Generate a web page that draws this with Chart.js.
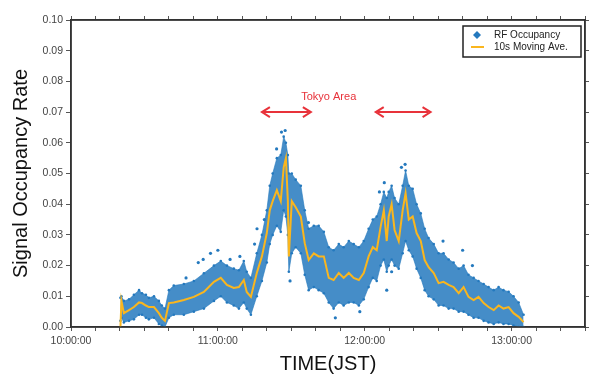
<!DOCTYPE html>
<html>
<head>
<meta charset="utf-8">
<script src="https://cdn.jsdelivr.net/npm/chart.js@4.4.1/dist/chart.umd.min.js"></script>
<style>
html,body{margin:0;padding:0;background:#fff;}
#wrap{width:592px;height:376px;position:relative;}
</style>
</head>
<body>
<div id="wrap"><canvas id="c" width="592" height="376"></canvas></div>
<script>
// time in minutes after 10:00:00 JST
const times = [20.2,20.6,21.6,23.7,25.7,27.8,29.0,30.6,31.8,33.9,35.9,37.1,38.4,40.0,42.0,46.1,50.2,54.3,58.4,61.2,63.7,66.5,68.6,70.6,71.8,73.5,75.9,78.0,80.0,81.2,82.4,84.1,85.7,86.9,87.8,88.6,89.0,90.2,91.8,93.9,95.5,97.1,99.2,101.2,103.3,105.3,107.3,109.4,111.4,113.5,115.5,117.6,119.6,121.6,123.3,124.9,126.5,127.8,129.0,129.8,131.0,132.2,133.9,135.5,136.7,138.0,139.6,141.2,142.9,144.5,146.1,148.2,150.2,152.2,154.3,156.3,158.4,160.4,162.4,164.5,166.5,168.6,170.6,172.7,174.7,176.7,178.8,180.8,182.9,184.9];
// 10s moving average
const movingAve = [0.0000,0.0085,0.0045,0.0055,0.0065,0.0080,0.0078,0.0070,0.0065,0.0065,0.0045,0.0030,0.0020,0.0078,0.0080,0.0088,0.0098,0.0114,0.0147,0.0160,0.0137,0.0127,0.0130,0.0153,0.0114,0.0098,0.0176,0.0230,0.0306,0.0380,0.0410,0.0446,0.0410,0.0520,0.0550,0.0410,0.0230,0.0410,0.0390,0.0360,0.0273,0.0218,0.0240,0.0230,0.0230,0.0160,0.0153,0.0176,0.0160,0.0176,0.0160,0.0153,0.0176,0.0230,0.0260,0.0250,0.0326,0.0380,0.0280,0.0360,0.0400,0.0316,0.0280,0.0380,0.0436,0.0350,0.0360,0.0306,0.0280,0.0218,0.0195,0.0176,0.0143,0.0147,0.0137,0.0130,0.0110,0.0130,0.0098,0.0088,0.0098,0.0078,0.0065,0.0055,0.0070,0.0060,0.0065,0.0045,0.0033,0.0016];
// RF occupancy cloud: upper and lower edge
const occHigh = [0.0095,0.0100,0.0085,0.0090,0.0105,0.0120,0.0110,0.0105,0.0095,0.0100,0.0085,0.0070,0.0060,0.0120,0.0135,0.0140,0.0150,0.0175,0.0200,0.0215,0.0200,0.0190,0.0185,0.0215,0.0180,0.0160,0.0240,0.0300,0.0380,0.0460,0.0500,0.0550,0.0560,0.0620,0.0600,0.0560,0.0500,0.0500,0.0480,0.0460,0.0380,0.0320,0.0330,0.0330,0.0310,0.0260,0.0250,0.0270,0.0260,0.0280,0.0270,0.0260,0.0280,0.0320,0.0350,0.0360,0.0400,0.0440,0.0420,0.0440,0.0460,0.0420,0.0400,0.0460,0.0510,0.0460,0.0450,0.0400,0.0370,0.0320,0.0290,0.0270,0.0240,0.0240,0.0220,0.0210,0.0190,0.0200,0.0170,0.0160,0.0150,0.0140,0.0130,0.0120,0.0130,0.0120,0.0115,0.0100,0.0080,0.0040];
const occLow = [0.0020,0.0030,0.0015,0.0020,0.0025,0.0040,0.0040,0.0030,0.0025,0.0030,0.0010,0.0005,0.0000,0.0030,0.0040,0.0040,0.0050,0.0060,0.0085,0.0100,0.0080,0.0070,0.0060,0.0080,0.0060,0.0040,0.0100,0.0150,0.0210,0.0270,0.0300,0.0330,0.0310,0.0380,0.0360,0.0300,0.0180,0.0240,0.0260,0.0240,0.0170,0.0120,0.0130,0.0120,0.0110,0.0080,0.0060,0.0080,0.0070,0.0080,0.0080,0.0070,0.0090,0.0130,0.0160,0.0150,0.0200,0.0220,0.0180,0.0200,0.0220,0.0200,0.0190,0.0240,0.0280,0.0250,0.0230,0.0190,0.0160,0.0120,0.0100,0.0090,0.0070,0.0070,0.0060,0.0060,0.0050,0.0050,0.0040,0.0030,0.0030,0.0020,0.0015,0.0010,0.0015,0.0010,0.0010,0.0005,0.0000,0.0000];
// isolated RF occupancy samples
const outlierT = [47,52,54,57,60,65,69,75,76,79,84,86,87.5,89.5,97,108,118,126,128,129,131,135,136.5,152,160,164];
const outlierV = [0.016,0.021,0.022,0.024,0.025,0.022,0.023,0.027,0.032,0.035,0.058,0.0635,0.064,0.015,0.034,0.003,0.005,0.044,0.047,0.012,0.018,0.052,0.053,0.028,0.025,0.020];
// axis ticks
const yTicks = [0.00,0.01,0.02,0.03,0.04,0.05,0.06,0.07,0.08,0.09,0.10];
const hourLabels = {0:'10:00:00',60:'11:00:00',120:'12:00:00',180:'13:00:00'};
// annotation
const annotText = 'Tokyo Area';
const annotTextPos = [105.3, 0.0750];
const arrowSpans = [[78.0, 98.0],[124.5, 146.9]];
const arrowY = 0.0700;

const BLUE = 'rgb(36,121,190)';
const ORANGE = 'rgb(250,182,30)';
const RED = 'rgb(232,50,58)';
const FONT = '"Liberation Sans", Arial, Helvetica, sans-serif';

const pts = (xs, ys) => xs.map((x,i)=>({x:x,y:ys[i]}));

const overlay = {
  id:'overlay',
  afterDatasetsDraw(chart){
    const ctx = chart.ctx, xs = chart.scales.x, ys = chart.scales.y;
    ctx.save();
    ctx.strokeStyle = RED; ctx.fillStyle = RED; ctx.lineWidth = 2;
    const py = ys.getPixelForValue(arrowY);
    arrowSpans.forEach(([a,b])=>{
      const x1 = xs.getPixelForValue(a), x2 = xs.getPixelForValue(b);
      ctx.beginPath(); ctx.moveTo(x1+2,py); ctx.lineTo(x2-2,py); ctx.stroke();
      [[x1,1],[x2,-1]].forEach(([x,d])=>{
        ctx.beginPath();
        ctx.moveTo(x+d*8,py-5); ctx.lineTo(x,py); ctx.lineTo(x+d*8,py+5);
        ctx.stroke();
      });
    });
    ctx.font = '11px ' + FONT;
    ctx.textAlign='center'; ctx.textBaseline='middle';
    ctx.fillText(annotText, xs.getPixelForValue(annotTextPos[0]), ys.getPixelForValue(annotTextPos[1]));
    ctx.restore();
  },
  afterDraw(chart){
    const ctx = chart.ctx, a = chart.chartArea;
    ctx.save();
    const bx = 463, by = 26, bw = 118, bh = 31;
    ctx.fillStyle = '#fff'; ctx.fillRect(bx,by,bw,bh);
    ctx.strokeStyle = '#222'; ctx.lineWidth = 1.5; ctx.strokeRect(bx,by,bw,bh);
    ctx.fillStyle = BLUE;
    ctx.beginPath(); ctx.moveTo(477,31); ctx.lineTo(481,35); ctx.lineTo(477,39); ctx.lineTo(473,35); ctx.closePath(); ctx.fill();
    ctx.strokeStyle = ORANGE; ctx.lineWidth = 2;
    ctx.beginPath(); ctx.moveTo(471,47); ctx.lineTo(484,47); ctx.stroke();
    ctx.fillStyle = '#222'; ctx.font = '10px ' + FONT; ctx.textBaseline='middle'; ctx.textAlign='left';
    ctx.fillText('RF Occupancy', 494, 35);
    ctx.fillText('10s Moving Ave.', 494, 47);
    ctx.strokeStyle = '#333'; ctx.lineWidth = 1.5;
    ctx.strokeRect(a.left, a.top, a.right-a.left, a.bottom-a.top);
    ctx.restore();
  }
};

new Chart(document.getElementById('c'), {
  type:'scatter',
  data:{datasets:[
    {label:'low', data:pts(times,occLow), showLine:true, borderColor:'rgba(36,121,190,0.6)', borderWidth:1, pointRadius:1.3, pointBackgroundColor:BLUE, pointBorderWidth:0, fill:false, order:4},
    {label:'RF Occupancy', data:pts(times,occHigh), showLine:true, borderColor:'rgba(36,121,190,0.6)', borderWidth:1, pointRadius:1.3, pointBackgroundColor:BLUE, pointBorderWidth:0, backgroundColor:'rgba(36,121,190,0.85)', fill:'-1', order:3},
    {label:'outliers', data:pts(outlierT,outlierV), pointRadius:1.6, pointBackgroundColor:BLUE, pointBorderWidth:0, order:2},
    {label:'10s Moving Ave.', data:pts(times,movingAve), showLine:true, borderColor:ORANGE, borderWidth:2, pointRadius:0, fill:false, order:1}
  ]},
  options:{
    responsive:false, animation:false,
    layout:{padding:0},
    plugins:{legend:{display:false}, tooltip:{enabled:false}},
    scales:{
      x:{type:'linear', position:'bottom', min:0, max:210,
        ticks:{stepSize:10, autoSkip:false, maxRotation:0, color:'#444', font:{family:FONT,size:10.5}, padding:4,
          callback:(v)=> hourLabels[v] !== undefined ? hourLabels[v] : ''},
        grid:{drawOnChartArea:false, color:'#333', tickLength:4, tickColor:'#555'},
        border:{color:'#333', width:1.5},
        title:{display:true, text:'TIME(JST)', color:'#111', font:{family:FONT,size:20}, padding:{top:5,bottom:0}},
        afterFit:(s)=>{s.height=49;}},
      x2:{type:'linear', position:'top', min:0, max:210,
        ticks:{stepSize:10, display:false},
        grid:{drawOnChartArea:false, tickLength:4, tickColor:'#555'},
        border:{color:'#333', width:1.5},
        afterFit:(s)=>{s.height=20;}},
      y:{type:'linear', min:0, max:0.1,
        afterBuildTicks:(s)=>{s.ticks = yTicks.map(v=>({value:v}));},
        ticks:{color:'#444', font:{family:FONT,size:10.5}, padding:3, callback:(v)=>v.toFixed(2)},
        grid:{drawOnChartArea:false, tickLength:5, tickColor:'#555'},
        border:{color:'#333', width:1.5},
        title:{display:true, text:'Signal Occupancy Rate', color:'#111', font:{family:FONT,size:20}, padding:{top:9,bottom:0}},
        afterFit:(s)=>{s.width=71;}},
      y2:{type:'linear', position:'right', min:0, max:0.1,
        afterBuildTicks:(s)=>{s.ticks = yTicks.map(v=>({value:v}));},
        ticks:{display:false},
        grid:{drawOnChartArea:false, tickLength:4, tickColor:'#555'},
        border:{color:'#333', width:1.5},
        afterFit:(s)=>{s.width=7;}}
    }
  },
  plugins:[overlay]
});
</script>
</body>
</html>
